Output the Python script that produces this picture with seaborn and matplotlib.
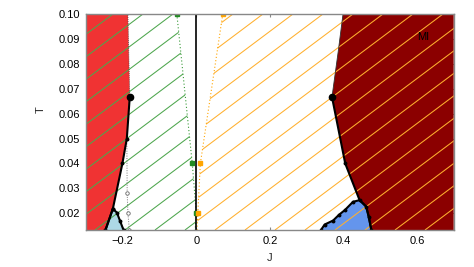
import numpy as np
import pandas as pd
import matplotlib
matplotlib.use("Agg")
import matplotlib.pyplot as plt
from matplotlib.patches import Polygon
from matplotlib.collections import LineCollection
import seaborn as sns

# ---------------- data ----------------
# red phase (left), boundary points from top to bottom
red_J = [-0.300, -0.186, -0.181, -0.189, -0.201, -0.227, -0.247, -0.300]
red_T = [0.100, 0.100, 0.0667, 0.050, 0.040, 0.0218, 0.0133, 0.0133]

# solid black left boundary
lb_J = [-0.181, -0.189, -0.201, -0.227, -0.247]
lb_T = [0.0667, 0.050, 0.040, 0.0218, 0.0133]
# dotted continuation above the end point
lt_J = [-0.181, -0.186]
lt_T = [0.0667, 0.100]

# light-blue pocket
lblue_J = [-0.247, -0.227, -0.216, -0.207, -0.198]
lblue_T = [0.0133, 0.0218, 0.0203, 0.0168, 0.0133]

# grey dotted line with open circles
grey_J = [-0.189, -0.188, -0.186, -0.182]
grey_T = [0.050, 0.028, 0.020, 0.0133]

# green dotted line (left hatched region boundary)
green_J = [-0.053, -0.011, 0.000, -0.003]
green_T = [0.100, 0.040, 0.020, 0.0133]

# orange dotted line (right hatched region boundary)
orange_J = [0.072, 0.011, 0.004, 0.002]
orange_T = [0.100, 0.040, 0.020, 0.0133]

# dark-red MI phase, boundary top -> bottom
mi_J = [0.399, 0.386, 0.369, 0.405, 0.444, 0.462, 0.469, 0.476]
mi_T = [0.100, 0.085, 0.0667, 0.040, 0.0253, 0.0227, 0.0186, 0.0133]

# cornflower-blue pocket
cblue_J = [0.339, 0.349, 0.372, 0.388, 0.404, 0.426, 0.444, 0.462, 0.469, 0.476]
cblue_T = [0.0133, 0.0155, 0.0171, 0.0194, 0.0213, 0.0246, 0.0253, 0.0227, 0.0186, 0.0133]

x_ticks = [-0.2, 0.0, 0.2, 0.4, 0.6]
x_ticklabels = ["\u22120.2", "0", "0.2", "0.4", "0.6"]
y_ticks = [0.02, 0.03, 0.04, 0.05, 0.06, 0.07, 0.08, 0.09, 0.10]
y_ticklabels = ["0.02", "0.03", "0.04", "0.05", "0.06", "0.07", "0.08", "0.09", "0.10"]
XMIN, XMAX = -0.3, 0.7
YMIN, YMAX = 0.0133, 0.1

# ---------------- style ----------------
sns.set_theme(style="white")
plt.rcParams["font.family"] = ["Liberation Sans", "DejaVu Sans"]
plt.rcParams["font.size"] = 8

fig = plt.figure(figsize=(4.74, 2.67), dpi=100)
W_px, H_px = 367.7, 216.0
ax = fig.add_axes([86 / 474, 37 / 267, W_px / 474, H_px / 267])
ax.set_xlim(XMIN, XMAX)
ax.set_ylim(YMIN, YMAX)

RED = "#F03333"
DARKRED = "#8B0000"
LBLUE = "#ADD8E6"
CBLUE = "#6495ED"
GREEN_H = "#4DA64D"
ORANGE_H = "#FFB02E"

# ---------------- fills ----------------
ax.fill(red_J, red_T, color=RED, lw=0, zorder=1)
mi_poly_J = mi_J + [XMAX, XMAX]
mi_poly_T = mi_T + [YMIN, YMAX]
ax.fill(mi_poly_J, mi_poly_T, color=DARKRED, lw=0, zorder=1)
ax.fill(lblue_J, lblue_T, color=LBLUE, lw=0, zorder=1)
ax.fill(cblue_J, cblue_T, color=CBLUE, lw=0, zorder=1)

# ---------------- hatching (decoration clipped to regions) ----------------
slope = 0.75      # pixel slope of hatch lines
spacing = 30.0    # horizontal spacing in pixels
x_first = 57.0    # where a line meets the top edge (pixels from left)


def hatch_segments():
    segs = []
    run = H_px / slope
    k0 = int(np.floor(-x_first / spacing)) - 1
    k1 = int(np.ceil((W_px + run - x_first) / spacing)) + 1
    for k in range(k0, k1):
        xt = x_first + k * spacing
        xb = xt - run
        segs.append([(xb / W_px, 0.0), (xt / W_px, 1.0)])
    return segs


green_clip = Polygon(list(zip([XMIN] + green_J + [XMIN], [YMAX] + green_T + [YMIN])),
                     closed=True, transform=ax.transData, fc="none", ec="none")
orange_clip = Polygon(list(zip(orange_J + [XMAX, XMAX], orange_T + [YMIN, YMAX])),
                      closed=True, transform=ax.transData, fc="none", ec="none")
ax.add_patch(green_clip)
ax.add_patch(orange_clip)

lc_g = LineCollection(hatch_segments(), colors=GREEN_H, linewidths=0.75,
                      transform=ax.transAxes, zorder=2)
lc_g.set_clip_path(green_clip)
ax.add_collection(lc_g)
lc_o = LineCollection(hatch_segments(), colors=ORANGE_H, linewidths=0.75,
                      transform=ax.transAxes, zorder=2)
lc_o.set_clip_path(orange_clip)
ax.add_collection(lc_o)

# ---------------- lines ----------------
def line(J, T, **kw):
    df = pd.DataFrame({"J": J, "T": T})
    sns.lineplot(data=df, x="J", y="T", sort=False, estimator=None, ax=ax,
                 legend=False, **kw)

# dotted thin boundaries
line(green_J, green_T, color="#3A9A3A", lw=0.8, linestyle=(0, (1, 2)), zorder=3)
ax.plot(green_J[:3], green_T[:3], ls="none", marker="s", ms=3, color="#228B22", zorder=5)
line(orange_J, orange_T, color="#FFA500", lw=0.8, linestyle=(0, (1, 2)), zorder=3)
ax.plot(orange_J[:3], orange_T[:3], ls="none", marker="s", ms=3, color="#FFA500", zorder=5)

line(grey_J, grey_T, color="#777777", lw=0.7, linestyle=(0, (1, 1.5)), zorder=3)
ax.plot(grey_J[1:], grey_T[1:], ls="none", marker="o", ms=2.5, mfc="white",
        mec="#666666", mew=0.6, zorder=5)

line(lt_J, lt_T, color="#444444", lw=0.6, linestyle=(0, (1, 1.5)), zorder=3)
line(mi_J[:3], mi_T[:3], color="#333333", lw=0.6, zorder=3)

# thick black boundaries
line(lb_J, lb_T, color="black", lw=1.5, zorder=4)
ax.plot(lb_J[1:], lb_T[1:], ls="none", marker="o", ms=1.8, color="black", zorder=5)
line(lblue_J, lblue_T, color="black", lw=1.5, zorder=4)
ax.plot(lblue_J, lblue_T, ls="none", marker="o", ms=1.8, color="black", zorder=5)

line(mi_J[2:], mi_T[2:], color="black", lw=1.5, zorder=4)
line(cblue_J, cblue_T, color="black", lw=1.5, zorder=4)
ax.plot(cblue_J, cblue_T, ls="none", marker="o", ms=1.8, color="black", zorder=5)
ax.plot(mi_J[3:4], mi_T[3:4], ls="none", marker="o", ms=1.8, color="black", zorder=5)

# end points
ax.plot([lb_J[0], mi_J[2]], [lb_T[0], mi_T[2]], ls="none", marker="o", ms=4.5,
        color="black", zorder=6)

# vertical line at J = 0
ax.axvline(0.0, color="black", lw=1.2, zorder=4)

ax.text(0.618, 0.0909, "MI", fontsize=8, color="black", ha="center", va="center", zorder=7)

# ---------------- axes ----------------
ax.set_xticks(x_ticks)
ax.set_xticklabels(x_ticklabels)
ax.set_yticks(y_ticks)
ax.set_yticklabels(y_ticklabels)
ax.tick_params(direction="in", length=2.5, width=0.8, color="#888888",
               top=True, right=True, bottom=True, left=True, labelsize=8,
               pad=4, labelcolor="black")
for s in ax.spines.values():
    s.set_color("#888888")
    s.set_linewidth(1.0)
    s.set_zorder(8)
ax.set_xlabel("J", fontsize=8)
ax.set_ylabel("T", fontsize=8)
ax.xaxis.set_label_coords(0.5, -0.105)
ax.yaxis.set_label_coords(-0.11, 0.556)

fig.savefig("out.png", dpi=100)
